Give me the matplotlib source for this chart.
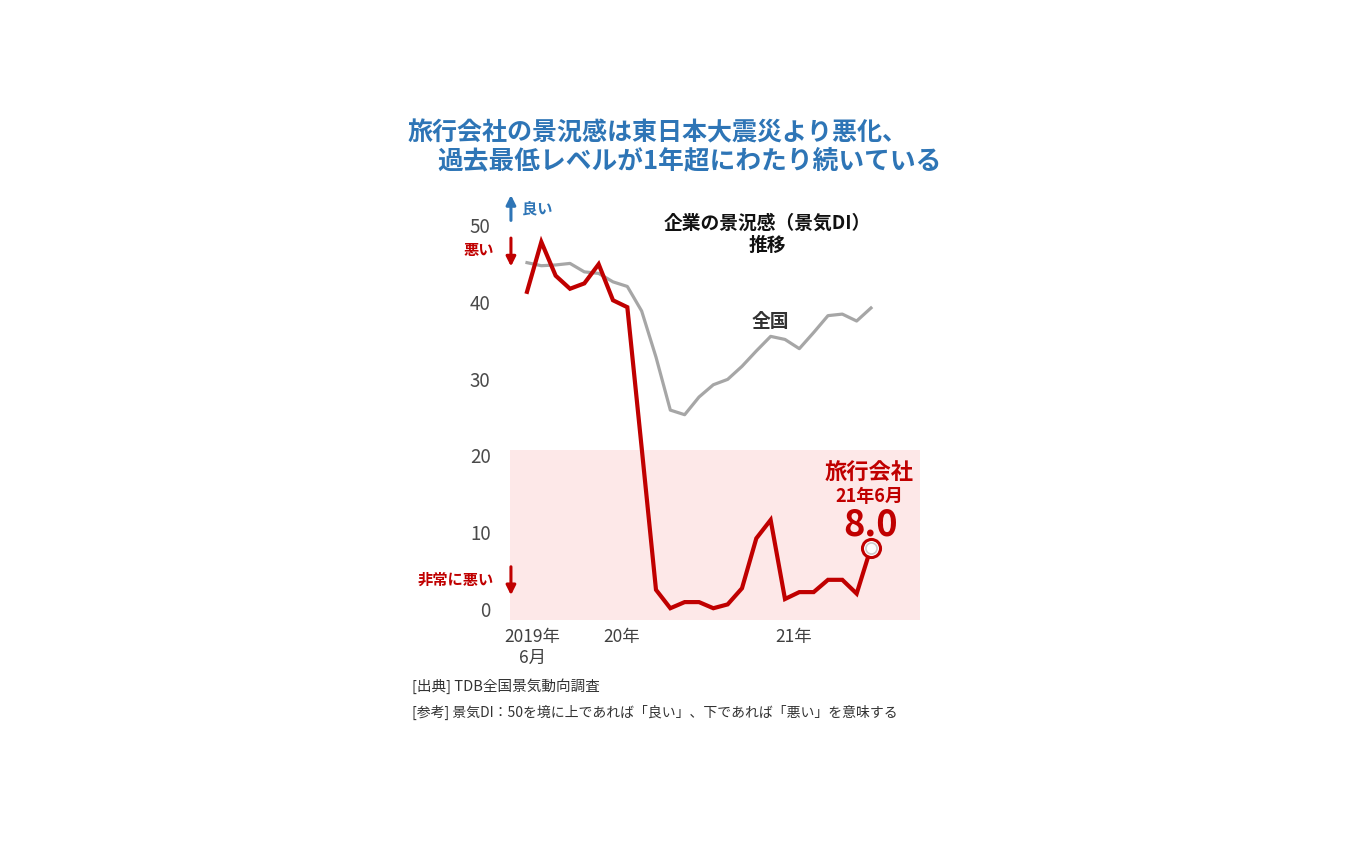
import numpy as np
import matplotlib
matplotlib.use("Agg")
import matplotlib.pyplot as plt

plt.rcParams['font.family'] = ['Noto Sans CJK JP', 'DejaVu Sans']

# monthly values, 2019-06 .. 2021-06
travel = [41.3, 47.8, 43.4, 41.7, 42.4, 44.9, 40.2, 39.3, 21.0, 2.5,
          0.1, 0.9, 0.9, 0.1, 0.6, 2.7, 9.2, 11.6, 1.3, 2.2,
          2.2, 3.8, 3.8, 2.0, 8.0]
national = [45.1, 44.7, 44.8, 45.0, 43.9, 43.7, 42.6, 42.0, 38.8, 32.8,
            25.9, 25.3, 27.6, 29.2, 29.9, 31.6, 33.6, 35.5, 35.1, 33.9,
            36.0, 38.2, 38.4, 37.5, 39.2]
yticks = [0, 10, 20, 30, 40, 50]
xtick_labels = ['2019年\n6月', '20年', '21年']
danger_level = 20.7

RED = '#c00000'
GRAY = '#a6a6a6'
BLUE = '#2e75b6'

W, H = 1350, 844
def px(x, y):
    return x / W, 1 - y / H

fig = plt.figure(figsize=(13.5, 8.44), dpi=100)
ax = fig.add_axes([510 / W, 1 - 620 / H, 410 / W, 430 / H])

x = np.arange(len(travel))
ax.set_xlim(-1.186, 27.42)
ax.set_ylim(-1.432, 54.56)

ax.axhspan(-1.432, danger_level, color='#fde8e8', zorder=0, lw=0)
ax.plot(x, national, color=GRAY, lw=2.3, zorder=2)
ax.plot(x, travel, color=RED, lw=3.0, zorder=3, solid_joinstyle='miter')
ax.plot(x[-1], travel[-1], 'o', ms=13, mfc='white', mec=RED, mew=2.2, zorder=4)
ax.plot(x[-1], travel[-1], 'o', ms=8, mfc='white', mec='#cccccc', mew=1.2, zorder=5)

for s in ax.spines.values():
    s.set_visible(False)
ax.set_yticks(yticks)
ax.set_yticklabels([str(v) for v in yticks], fontsize=13.5, color='#4a4a4a')
ax.tick_params(axis='y', length=0, pad=14)
ax.set_xticks([0.4, 6.6, 18.6])
ax.set_xticklabels(xtick_labels, fontsize=12.5, color='#404040', linespacing=1.2)
ax.tick_params(axis='x', length=0, pad=6)

# annotations inside plot
ax.text(17.0, 37.5, '全国', fontsize=13.5, color='#333333', fontweight='bold',
        ha='center', va='center')
ax.text(16.8, 48.8, '企業の景況感（景気DI）\n推移', fontsize=13.5, color='#111111',
        fontweight='bold', ha='center', va='center', linespacing=1.25)
ax.text(23.9, 17.8, '旅行会社', fontsize=16, color=RED, fontweight='bold',
        ha='center', va='center')
ax.text(23.9, 14.6, '21年6月', fontsize=13, color=RED, fontweight='bold',
        ha='center', va='center')
ax.text(24.0, 11.0, '8.0', fontsize=26, color=RED, fontweight='bold',
        ha='center', va='center')

# direction arrows on the left
arrow_kw = dict(arrowstyle='-|>', lw=2.2, mutation_scale=14, shrinkA=0, shrinkB=0)
ax.annotate('', xy=(-1.12, 53.9), xytext=(-1.12, 50.6),
            arrowprops=dict(color=BLUE, **arrow_kw), annotation_clip=False)
ax.annotate('', xy=(-1.12, 44.6), xytext=(-1.12, 48.3),
            arrowprops=dict(color=RED, **arrow_kw), annotation_clip=False)
ax.annotate('', xy=(-1.12, 1.8), xytext=(-1.12, 5.5),
            arrowprops=dict(color=RED, **arrow_kw), annotation_clip=False)
ax.text(-0.35, 52.2, '良い', fontsize=11, color=BLUE, fontweight='bold',
        ha='left', va='center', clip_on=False)
ax.text(-2.3, 46.7, '悪い', fontsize=11, color=RED, fontweight='bold',
        ha='right', va='center', clip_on=False)
ax.text(-2.3, 3.8, '非常に悪い', fontsize=11, color=RED, fontweight='bold',
        ha='right', va='center', clip_on=False)

# title
fig.text(*px(658, 133), '旅行会社の景況感は東日本大震災より悪化、', fontsize=18,
         color=BLUE, fontweight='bold', ha='center', va='center')
fig.text(*px(690, 161), '過去最低レベルが1年超にわたり続いている', fontsize=18.5,
         color=BLUE, fontweight='bold', ha='center', va='center')

# notes
fig.text(*px(412, 686), '[出典] TDB全国景気動向調査', fontsize=10.5,
         color='#333333', ha='left', va='center')
fig.text(*px(412, 712), '[参考] 景気DI：50を境に上であれば「良い」、下であれば「悪い」を意味する',
         fontsize=10, color='#333333', ha='left', va='center')

fig.savefig('out.png', dpi=100, facecolor='white')
